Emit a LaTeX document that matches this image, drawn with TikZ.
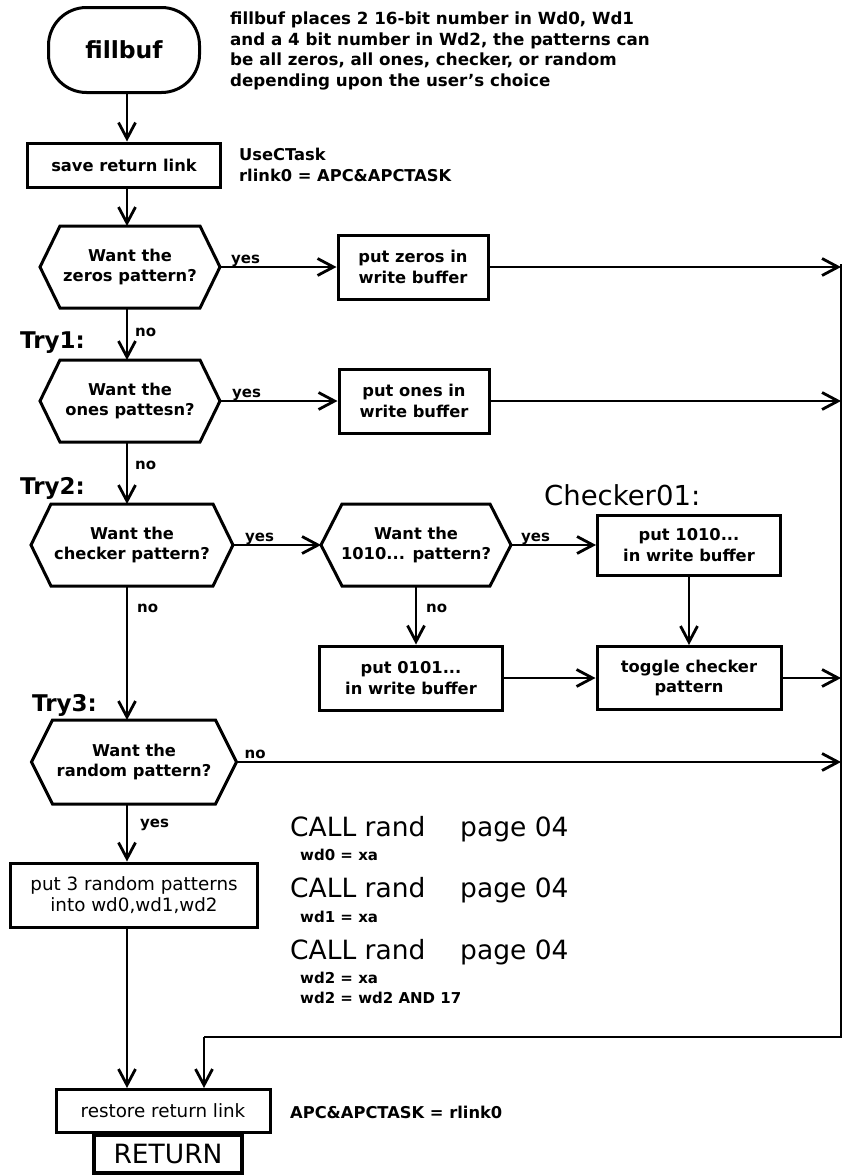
\documentclass[tikz,border=0pt]{standalone}
\usepackage{fontspec}
\setmainfont{DejaVu Sans}
\usetikzlibrary{arrows.meta}

% text sizes used in the chart
\newcommand\lblfont{\fontsize{16.3}{20.5}\selectfont\bfseries}
\newcommand\tagfont{\fontsize{15}{18}\selectfont\bfseries}
\newcommand\plainfont{\fontsize{18.3}{21}\selectfont}
\newcommand\tryfont{\fontsize{23}{27}\selectfont\bfseries}
\newcommand\callfont{\fontsize{26.5}{30}\selectfont}

% outline of a decision hexagon around a node: #1 node, #2 indent of the points
\newcommand\hexoutline[2]{%
  \draw[boxline] ([xshift=#2]#1.north west) -- ([xshift=-#2]#1.north east)
    -- (#1.east) -- ([xshift=-#2]#1.south east) -- ([xshift=#2]#1.south west)
    -- (#1.west) -- cycle;}

\begin{document}
\begin{tikzpicture}[x=1pt,y=-1pt,
  boxline/.style={line width=3pt, line join=miter},
  procbox/.style={draw, line width=3pt, inner sep=0pt, align=center, font=\lblfont},
  hexnode/.style={inner sep=0pt, outer sep=0pt, align=center, font=\lblfont},
  plainline/.style={line width=2.8pt, line join=miter},
  flow/.style={line width=2.8pt, -{Straight Barb[length=16pt,width=17pt]}},
  tag/.style={inner sep=0pt, font=\tagfont},
  note/.style={inner sep=0pt, align=left, font=\lblfont}]

\useasboundingbox (0,0) rectangle (843,1175);

% helper coordinates: main column and the collecting line on the right
\coordinate (col) at (127,0);
\coordinate (rtop) at (841,264);
\coordinate (rbot) at (841,1037);
\coordinate (rjoin) at (204,1037);

% entry
\node[procbox, rounded corners=38pt, minimum width=151pt, minimum height=85pt,
      font=\fontsize{23.5}{28}\selectfont\bfseries] (fillbuf) at (124,50) {fillbuf};
\node[note, anchor=west, font=\fontsize{16.7}{20.7}\selectfont\bfseries] (desc) at (230,51)
  {fillbuf places 2 16-bit number in Wd0, Wd1\\and a 4 bit number in Wd2, the patterns can\\be all zeros, all ones, checker, or random\\depending upon the user’s choice};

\node[procbox, minimum width=193pt, minimum height=44pt] (save) at (124,165) {save return link};
\node[note, anchor=west] (usect) at (239,165) {UseCTask\\rlink0 = APC\&APCTASK};

% zeros
\node[hexnode, minimum width=180pt, minimum height=82pt] (q1) at (130,267) {Want the\\zeros pattern?};
\hexoutline{q1}{20pt}
\node[procbox, minimum width=150pt, minimum height=64pt] (zeros) at (413,267) {put zeros in\\write buffer};

% ones
\node[tag, anchor=west] (try1) at (20,343) {\tryfont Try1:};
\node[hexnode, minimum width=180pt, minimum height=82pt] (q2) at (130,401) {Want the\\ones pattesn?};
\hexoutline{q2}{20pt}
\node[procbox, minimum width=150pt, minimum height=64pt] (ones) at (414,401) {put ones in\\write buffer};

% checker
\node[tag, anchor=west] (try2) at (20,488) {\tryfont Try2:};
\node[hexnode, minimum width=202pt, minimum height=82pt] (q3) at (132,545) {Want the\\checker pattern?};
\hexoutline{q3}{20pt}
\node[hexnode, minimum width=190pt, minimum height=82pt] (q4) at (416,545) {Want the\\1010... pattern?};
\hexoutline{q4}{21pt}
\node[anchor=west, inner sep=0pt, font=\fontsize{27.5}{32}\selectfont] (chk) at (544,495) {Checker01:};
\node[procbox, minimum width=183pt, minimum height=60pt] (b1010) at (689,545) {put 1010...\\in write buffer};
\node[procbox, minimum width=183pt, minimum height=64pt] (b0101) at (411,678) {put 0101...\\in write buffer};
\node[procbox, minimum width=184pt, minimum height=63pt] (toggle) at (689,678) {toggle checker\\pattern};

% random
\node[tag, anchor=west] (try3) at (32,705) {\tryfont Try3:};
\node[hexnode, minimum width=205pt, minimum height=84pt] (q5) at (134,762) {Want the\\random pattern?};
\hexoutline{q5}{21pt}
\node[procbox, minimum width=247pt, minimum height=64pt, font=\plainfont] (rbox) at (134,895)
  {put 3 random patterns\\into wd0,wd1,wd2};

% calls made by the random branch
\node[anchor=base west, inner sep=0pt, font=\callfont] (call1) at (290,836) {CALL rand};
\node[anchor=base west, inner sep=0pt, font=\callfont] (page1) at (460,836) {page 04};
\node[tag, anchor=base west] (wd0) at (300,860) {wd0 = xa};
\node[anchor=base west, inner sep=0pt, font=\callfont] (call2) at (290,897) {CALL rand};
\node[anchor=base west, inner sep=0pt, font=\callfont] (page2) at (460,897) {page 04};
\node[tag, anchor=base west] (wd1) at (300,922) {wd1 = xa};
\node[anchor=base west, inner sep=0pt, font=\callfont] (call3) at (290,959) {CALL rand};
\node[anchor=base west, inner sep=0pt, font=\callfont] (page3) at (460,959) {page 04};
\node[tag, anchor=base west] (wd2) at (300,983) {wd2 = xa};
\node[tag, anchor=base west] (wd2and) at (300,1003) {wd2 = wd2 AND 17};

% exit
\node[procbox, minimum width=214pt, minimum height=43pt, font=\plainfont] (restore) at (163,1111) {restore return link};
\node[note, anchor=west] (apc) at (290,1112) {APC\&APCTASK = rlink0};
\node[procbox, line width=3.3pt, minimum width=148pt, minimum height=38pt,
      font=\fontsize{26.5}{30}\selectfont] (ret) at (168,1154) {RETURN};

% main column
\draw[flow] (fillbuf.south -| col) -- (save.north -| col);
\draw[flow] (save.south -| col) -- (q1.north -| col);
\draw[flow] (q1.south -| col) -- (q2.north -| col);
\draw[flow] (q2.south -| col) -- (q3.north -| col);
\draw[flow] (q3.south -| col) -- (q5.north -| col);
\draw[flow] (q5.south -| col) -- (rbox.north -| col);
\draw[flow] (rbox.south -| col) -- (restore.north -| col);

% branches
\draw[flow] (q1.east) -- (zeros.west);
\draw[flow] (q2.east) -- (ones.west);
\draw[flow] (q3.east) -- (q4.west);
\draw[flow] (q4.east) -- (b1010.west);
\draw[flow] (q4.south) -- (q4.south |- b0101.north);
\draw[flow] (b1010.south) -- (toggle.north);
\draw[flow] (b0101.east) -- (toggle.west);

% into the collecting line
\draw[flow] (zeros.east) -- (zeros.east -| rtop);
\draw[flow] (ones.east) -- (ones.east -| rtop);
\draw[flow] (toggle.east) -- (toggle.east -| rtop);
\draw[flow] (q5.east) -- (q5.east -| rtop);
\draw[plainline] (rtop) -- (rbot) -- (rjoin);
\draw[flow] (rjoin) -- (rjoin |- restore.north);

% branch labels
\node[tag, anchor=base west] (yes1) at ([xshift=11pt, yshift=4pt]q1.east) {yes};
\node[tag, anchor=base west] (yes2) at ([xshift=12pt, yshift=4pt]q2.east) {yes};
\node[tag, anchor=base west] (yes3) at ([xshift=12pt, yshift=4pt]q3.east) {yes};
\node[tag, anchor=base west] (yes4) at ([xshift=10pt, yshift=4pt]q4.east) {yes};
\node[tag, anchor=base west] (no5) at ([xshift=8pt, yshift=4pt]q5.east) {no};
\node[tag, anchor=west] (no1) at ([xshift=8pt, yshift=-24pt]q1.south -| col) {no};
\node[tag, anchor=west] (no2) at ([xshift=8pt, yshift=-23pt]q2.south -| col) {no};
\node[tag, anchor=west] (no3) at ([xshift=10pt, yshift=-22pt]q3.south -| col) {no};
\node[tag, anchor=west] (no4) at ([xshift=10pt, yshift=-22pt]q4.south) {no};
\node[tag, anchor=west] (yes5) at ([xshift=13pt, yshift=-21pt]q5.south -| col) {yes};

\end{tikzpicture}
\end{document}
